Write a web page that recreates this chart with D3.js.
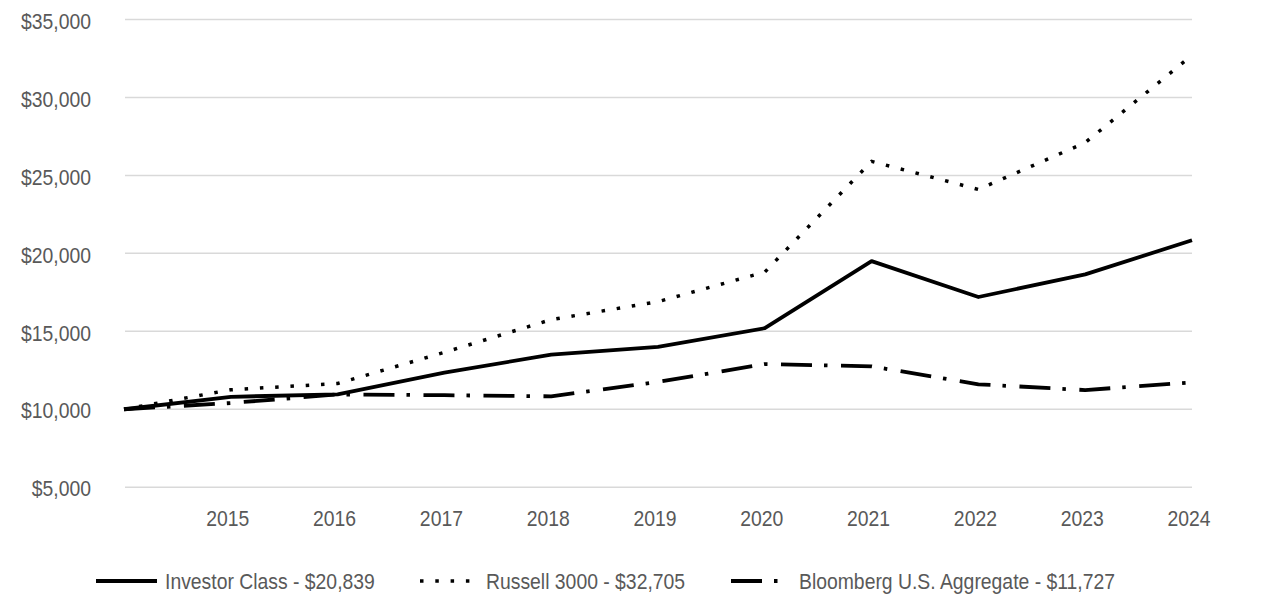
<!DOCTYPE html>
<html>
<head>
<meta charset="utf-8">
<script src="https://cdn.jsdelivr.net/npm/d3@7/dist/d3.min.js"></script>
<style>
  html, body { margin: 0; padding: 0; background: #ffffff; }
  svg { display: block; }
  text { font-family: "Liberation Sans Narrow", "Arial Narrow", "Liberation Sans", Arial, sans-serif; fill: #595959; }
</style>
</head>
<body>
<svg id="chart" width="1286" height="614"></svg>
<script>
const years = [2014, 2015, 2016, 2017, 2018, 2019, 2020, 2021, 2022, 2023, 2024];
const xTickYears = [2015, 2016, 2017, 2018, 2019, 2020, 2021, 2022, 2023, 2024];
const yTicks = [5000, 10000, 15000, 20000, 25000, 30000, 35000];

const investorClass = [10000, 10800, 10950, 12350, 13500, 14000, 15200, 19500, 17200, 18650, 20839];
const russell3000   = [10000, 11250, 11650, 13650, 15750, 16900, 18800, 25900, 24100, 27100, 32705];
const bloombergAgg  = [10000, 10400, 10950, 10900, 10830, 11750, 12900, 12750, 11600, 11230, 11727];

const seriesNames = ["Investor Class - $20,839", "Russell 3000 - $32,705", "Bloomberg U.S. Aggregate - $11,727"];

const svg = d3.select("#chart");
const x = d3.scaleLinear().domain([2014, 2024]).range([124, 1192]);
const y = d3.scaleLinear().domain([5000, 35000]).range([487.2, 19.5]);

const textScaleX = 0.88;

// gridlines
svg.append("g").selectAll("line").data(yTicks).join("line")
  .attr("x1", 125).attr("x2", 1192)
  .attr("y1", d => y(d)).attr("y2", d => y(d))
  .attr("stroke", "#d9d9d9").attr("stroke-width", 1.5);

// y axis labels
const fmt = d3.format(",");
svg.append("g").selectAll("text").data(yTicks).join("text")
  .attr("transform", d => `translate(91,${y(d) + 1.5}) scale(${textScaleX},1)`)
  .attr("dy", "0.35em")
  .attr("text-anchor", "end").attr("font-size", 22)
  .text(d => "$" + fmt(d));

// x axis labels
svg.append("g").selectAll("text").data(xTickYears).join("text")
  .attr("transform", d => `translate(${x(d) - 3},518) scale(${textScaleX},1)`)
  .attr("dy", "0.35em")
  .attr("text-anchor", "middle").attr("font-size", 22)
  .text(d => d);

const styles = [
  { width: 3.8, dash: null },
  { width: 3.5, dash: "3.5,11.8" },
  { width: 3.8, dash: "31,12,3.5,13.5" }
];
const allSeries = [investorClass, russell3000, bloombergAgg];

const line = d3.line().x((d, i) => x(years[i])).y(d => y(d)).curve(d3.curveLinear);

allSeries.forEach((s, k) => {
  svg.append("path").datum(s)
    .attr("d", line)
    .attr("fill", "none")
    .attr("stroke", "#000")
    .attr("stroke-width", styles[k].width)
    .attr("stroke-linecap", "butt")
    .attr("stroke-linejoin", "round")
    .attr("stroke-dasharray", styles[k].dash);
});

// legend
const legendSym = [96, 420, 731];
const legendSymLen = [61, 52, 50];
const legendText = [165, 486, 799];
const ly = 581;
seriesNames.forEach((n, k) => {
  svg.append("line")
    .attr("x1", legendSym[k]).attr("x2", legendSym[k] + legendSymLen[k])
    .attr("y1", ly).attr("y2", ly)
    .attr("stroke", "#000")
    .attr("stroke-width", styles[k].width)
    .attr("stroke-dasharray", styles[k].dash);
  svg.append("text")
    .attr("transform", `translate(${legendText[k]},${ly}) scale(${textScaleX},1)`)
    .attr("dy", "0.35em")
    .attr("font-size", 22)
    .text(n);
});
</script>
</body>
</html>
